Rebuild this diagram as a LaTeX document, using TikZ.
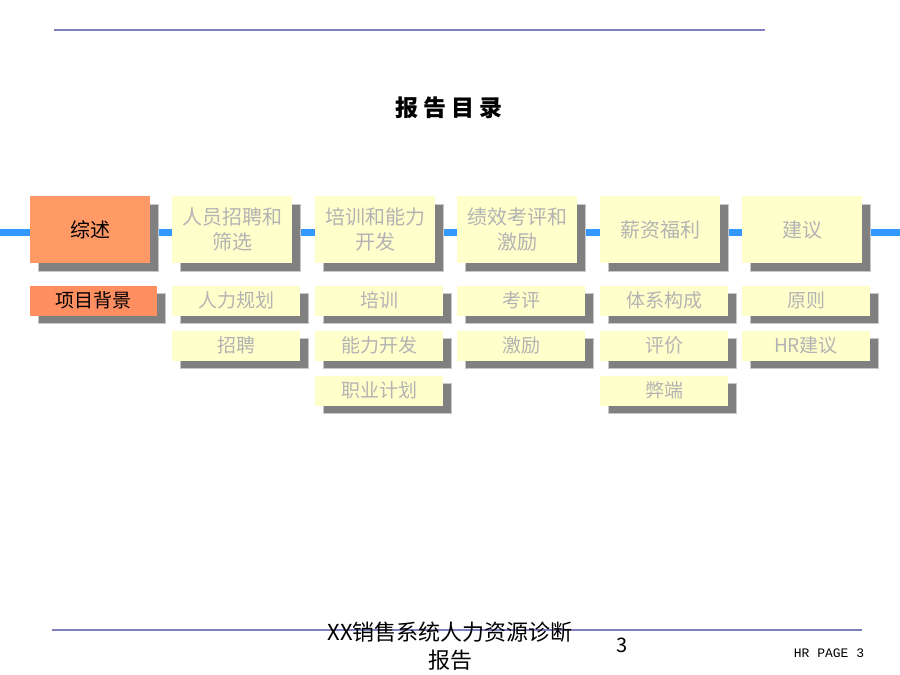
\documentclass[tikz,border=0pt]{standalone}
\usepackage{fontspec}
\setmainfont{Noto Sans CJK SC}
\newfontfamily\pagefont{Liberation Mono}
\usepackage{tikz}
\usetikzlibrary{shadows}

\definecolor{linepurple}{HTML}{8080C0}
\definecolor{barblue}{HTML}{3399FF}
\definecolor{boxyellow}{HTML}{FFFFCC}
\definecolor{boxorange}{HTML}{FF9966}
\definecolor{suborange}{HTML}{FF8F60}
\definecolor{greytext}{HTML}{B3B3B3}
\definecolor{shadowgrey}{HTML}{808080}
\definecolor{shadowedge}{HTML}{C8C8C8}

\begin{document}
\begin{tikzpicture}[x=1pt,y=-1pt,
	boxshadow/.style={drop shadow={shadow xshift=8pt,shadow yshift=-8pt,fill=shadowgrey,draw=shadowedge,opacity=1}},
	topic/.style={boxshadow,fill=boxyellow,text=greytext,minimum width=120pt,minimum height=67pt,inner sep=0pt,align=center,font=\fontsize{20}{25}\selectfont},
	subtopic/.style={boxshadow,fill=boxyellow,text=greytext,minimum width=128pt,minimum height=30pt,inner sep=0pt,font=\fontsize{19}{22}\selectfont},
	current/.style={fill=boxorange,text=black},
	subcurrent/.style={fill=suborange,text=black}]
	\useasboundingbox (0,0) rectangle (900,675);
	\draw[linepurple,line width=2pt] (54,30) -- (765,30);
	\draw[linepurple,line width=2pt] (52,630) -- (862,630);
	\node (title) at (449,108) {\fontsize{23}{26}\selectfont\bfseries 报\hspace{5pt}告\hspace{5pt}目\hspace{5pt}录};
	\draw[barblue,line width=7pt] (0,232) -- (900,232);

	% main topics
	\node[topic,current] (zongshu) at (90,229.5) {综述};
	\node[topic] (zhaopin) at (232,229.5) {人员招聘和\\筛选};
	\node[topic] (peixun) at (375,229.5) {培训和能力\\开发};
	\node[topic] (jixiao) at (517,229.5) {绩效考评和\\激励};
	\node[topic] (xinzi) at (660,229.5) {薪资福利};
	\node[topic] (jianyi) at (802,229.5) {建议};

	% sub topics
	\node[subtopic,subcurrent,minimum width=127pt] (beijing) at (93.5,300.5) {项目背景};
	\node[subtopic] (guihua) at (236,300.5) {人力规划};
	\node[subtopic] (zhaopinsub) at (236,345.5) {招聘};
	\node[subtopic] (peixunsub) at (379,300.5) {培训};
	\node[subtopic] (kaifa) at (379,345.5) {能力开发};
	\node[subtopic] (zhiye) at (379,390.5) {职业计划};
	\node[subtopic] (kaoping) at (521,300.5) {考评};
	\node[subtopic] (jili) at (521,345.5) {激励};
	\node[subtopic] (tixi) at (664,300.5) {体系构成};
	\node[subtopic] (pingjia) at (664,345.5) {评价};
	\node[subtopic] (biduan) at (664,390.5) {弊端};
	\node[subtopic] (yuanze) at (806,300.5) {原则};
	\node[subtopic] (hr) at (806,345.5) {HR建议};

	% footer
	\node[align=center,text width=270pt,font=\fontsize{22}{28}\selectfont] (report) at (450,646) {XX销售系统人力资源诊断\\报告};
	\node[font=\fontsize{20}{24}\selectfont] (pagenum) at (622,645) {3};
	\node[font=\pagefont\fontsize{13}{16}\selectfont] (hrpage) at (829,653) {HR PAGE 3};
\end{tikzpicture}
\end{document}
